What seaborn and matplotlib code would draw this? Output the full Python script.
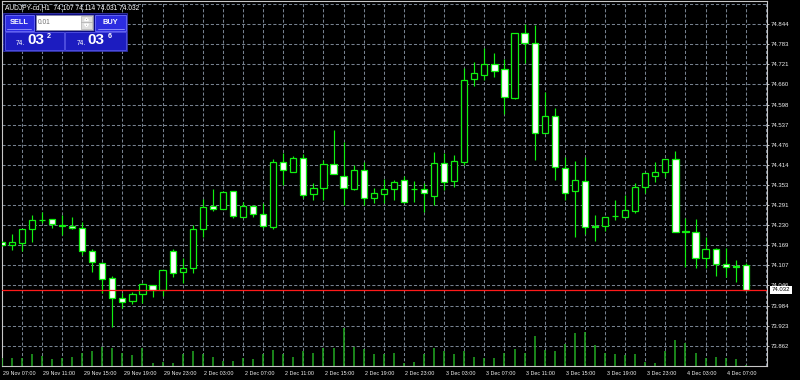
import matplotlib
matplotlib.use("Agg")
import matplotlib.pyplot as plt
import matplotlib.transforms as mtransforms
from matplotlib.patches import Rectangle, Polygon
from matplotlib import font_manager
import numpy as np
import pandas as pd
import seaborn as sns

# ---------------- data ----------------
symbol = "AUDJPY-cd,H1"
opens = [74.179, 74.169, 74.175, 74.217, 74.246, 74.248, 74.227, 74.227, 74.222, 74.151,
         74.115, 74.070, 74.007, 73.997, 74.020, 74.047, 74.032, 74.152, 74.086, 74.098,
         74.217, 74.288, 74.279, 74.334, 74.256, 74.289, 74.264, 74.225, 74.424, 74.393,
         74.436, 74.325, 74.342, 74.416, 74.380, 74.339, 74.398, 74.312, 74.325, 74.339,
         74.367, 74.339, 74.339, 74.320, 74.421, 74.366, 74.424, 74.676, 74.688, 74.721,
         74.706, 74.617, 74.816, 74.785, 74.512, 74.563, 74.404, 74.334, 74.365, 74.226,
         74.227, 74.257, 74.256, 74.273, 74.347, 74.381, 74.391, 74.431, 74.211, 74.210,
         74.129, 74.157, 74.110, 74.105, 74.107]
highs = [74.183, 74.203, 74.219, 74.261, 74.271, 74.249, 74.261, 74.254, 74.240, 74.156,
         74.116, 74.075, 74.022, 74.027, 74.054, 74.048, 74.094, 74.156, 74.129, 74.230,
         74.310, 74.340, 74.333, 74.335, 74.302, 74.290, 74.297, 74.431, 74.449, 74.441,
         74.446, 74.358, 74.429, 74.520, 74.485, 74.414, 74.424, 74.342, 74.370, 74.368,
         74.380, 74.365, 74.358, 74.452, 74.451, 74.444, 74.709, 74.729, 74.772, 74.755,
         74.736, 74.817, 74.844, 74.841, 74.637, 74.587, 74.439, 74.427, 74.437, 74.261,
         74.255, 74.307, 74.322, 74.358, 74.389, 74.424, 74.432, 74.457, 74.251, 74.249,
         74.195, 74.161, 74.159, 74.124, 74.114]
lows = [74.165, 74.154, 74.152, 74.177, 74.236, 74.220, 74.200, 74.217, 74.139, 74.088,
        74.022, 73.920, 73.978, 73.989, 73.993, 74.011, 74.014, 74.073, 74.052, 74.083,
        74.195, 74.274, 74.278, 74.251, 74.255, 74.254, 74.221, 74.217, 74.353, 74.392,
        74.314, 74.307, 74.307, 74.385, 74.291, 74.338, 74.291, 74.297, 74.297, 74.307,
        74.297, 74.302, 74.271, 74.291, 74.337, 74.345, 74.414, 74.655, 74.673, 74.683,
        74.569, 74.616, 74.724, 74.429, 74.511, 74.368, 74.307, 74.193, 74.203, 74.182,
        74.213, 74.246, 74.255, 74.266, 74.329, 74.363, 74.378, 74.209, 74.103, 74.100,
        74.098, 74.076, 74.073, 74.057, 74.031]
closes = [74.169, 74.178, 74.217, 74.246, 74.245, 74.232, 74.229, 74.222, 74.152, 74.117,
          74.065, 74.008, 73.994, 74.020, 74.049, 74.032, 74.093, 74.083, 74.100, 74.218,
          74.286, 74.279, 74.332, 74.259, 74.289, 74.263, 74.227, 74.424, 74.398, 74.436,
          74.322, 74.342, 74.416, 74.386, 74.342, 74.398, 74.312, 74.327, 74.340, 74.363,
          74.302, 74.340, 74.327, 74.421, 74.363, 74.426, 74.673, 74.694, 74.722, 74.701,
          74.622, 74.816, 74.785, 74.512, 74.563, 74.408, 74.328, 74.368, 74.225, 74.224,
          74.254, 74.259, 74.276, 74.345, 74.388, 74.391, 74.431, 74.210, 74.209, 74.129,
          74.157, 74.110, 74.101, 74.101, 74.032]
volumes = [240, 250, 231, 351, 300, 219, 231, 270, 399, 450,
           570, 531, 381, 330, 549, 99, 120, 81, 351, 450,
           351, 270, 150, 150, 231, 201, 351, 480, 351, 270,
           450, 390, 531, 531, 1149, 570, 501, 351, 351, 399,
           99, 120, 369, 531, 450, 351, 450, 270, 249, 231,
           381, 519, 399, 900, 471, 450, 651, 981, 1029, 630,
           399, 351, 330, 369, 120, 81, 450, 780, 699, 381,
           249, 270, 231, 201, 30]
time_tick_index = [0, 4, 8, 12, 16, 20, 24, 28, 32, 36, 40, 44, 48, 52, 56, 60, 64, 68, 72]
time_labels = ["29 Nov 07:00", "29 Nov 11:00", "29 Nov 15:00", "29 Nov 19:00", "29 Nov 23:00",
               "2 Dec 03:00", "2 Dec 07:00", "2 Dec 11:00", "2 Dec 15:00", "2 Dec 19:00",
               "2 Dec 23:00", "3 Dec 03:00", "3 Dec 07:00", "3 Dec 11:00", "3 Dec 15:00",
               "3 Dec 19:00", "3 Dec 23:00", "4 Dec 03:00", "4 Dec 07:00"]
price_ticks = [74.844, 74.783, 74.721, 74.660, 74.598, 74.537, 74.476, 74.414, 74.353,
               74.291, 74.230, 74.169, 74.107, 74.046, 73.984, 73.923, 73.862]
extra_grid_prices = [74.905]
bid_price = 74.032
lot_size = "0.01"
sell_quote = ["74.", "03", "2"]
buy_quote = ["74.", "03", "6"]

# ---------------- style ----------------
sns.set_theme(style="dark", rc={"axes.facecolor": "black", "figure.facecolor": "black"})
names = {f.name for f in font_manager.fontManager.ttflist}
REG = "Liberation Sans" if "Liberation Sans" in names else "DejaVu Sans"
NARROW = "Liberation Sans Narrow" if "Liberation Sans Narrow" in names else None
plt.rcParams["font.family"] = [REG, "DejaVu Sans"]
if NARROW:
    tick_family, xlab_size, ylab_size = [NARROW, "DejaVu Sans"], 4.4, 5.0
else:
    tick_family, xlab_size, ylab_size = [REG, "DejaVu Sans"], 3.85, 4.35

W, H = 800, 380
fig = plt.figure(figsize=(W / 100, H / 100), dpi=100, facecolor="black")
L, R, T, B = 1.5, 767.0, 1.0, 366.0
pos = [L / W, 1 - B / H, (R - L) / W, (B - T) / H]
ax = fig.add_axes(pos)
ax.set_facecolor("black")

df = pd.DataFrame({"open": opens, "high": highs, "low": lows, "close": closes, "volume": volumes})
df["x"] = np.arange(len(df))
df["bull"] = df["close"] > df["open"]

ax.set_xlim(-0.02, 76.11)
ax.set_ylim(73.800, 74.914)

GREEN = "#10f010"
# wicks
ax.vlines(df["x"], df["low"], df["high"], color=GREEN, lw=0.85, zorder=3)
# bodies
body_bottom = np.minimum(df["open"], df["close"])
body_height = np.abs(df["close"] - df["open"])
face = np.where(df["bull"], "black", "white")
ax.bar(df["x"], body_height, bottom=body_bottom, width=0.62, color=face,
       edgecolor=GREEN, linewidth=0.9, zorder=4)

# bid line
ax.axhline(bid_price, color="#ff1a1a", lw=0.9, zorder=5)

# grid
ax.set_xticks(time_tick_index)
ax.set_xticklabels(time_labels, ha="left")
ax.set_xticks(range(0, 77, 2), minor=True)
ax.yaxis.tick_right()
ax.set_yticks(price_ticks)
ax.set_yticklabels([f"{p:.3f}" for p in price_ticks])
ax.set_yticks(extra_grid_prices, minor=True)
ax.grid(True, which="both", color="#76818f", lw=0.75, ls=(0, (3, 2)), zorder=1)
ax.set_axisbelow(True)
ax.tick_params(axis="x", which="major", direction="out", length=2.5, width=0.7,
               color="#c8c8c8", labelsize=xlab_size, labelcolor="#f0f0f0", pad=1.0)
ax.tick_params(axis="y", which="major", direction="out", length=1.5, width=0.7,
               color="#c8c8c8", labelsize=ylab_size, labelcolor="#f0f0f0", pad=1.2,
               right=True, left=False, labelright=True, labelleft=False)
ax.tick_params(which="minor", length=0)
off = mtransforms.ScaledTranslation(1.5 / 100, 0, fig.dpi_scale_trans)
for lab in ax.get_xticklabels():
    lab.set_transform(lab.get_transform() + off)
    lab.set_family(tick_family)
for lab in ax.get_yticklabels():
    lab.set_family(tick_family)
for sp in ax.spines.values():
    sp.set_color("#c8c8c8")
    sp.set_linewidth(0.8)
    sp.set_visible(True)

# bid label box
trans = mtransforms.blended_transform_factory(ax.transAxes, ax.transData)
ax.text(1.0 + 4.5 / (R - L), bid_price, f"{bid_price:.3f}", transform=trans, ha="left",
        va="center", fontsize=ylab_size, family=tick_family, color="black",
        bbox=dict(boxstyle="square,pad=0.3", fc="white", ec="none"), clip_on=False, zorder=30)

# volumes
ax2 = fig.add_axes(pos, sharex=ax)
ax2.patch.set_visible(False)
ax2.set_ylim(0, 365 * 30)
ax2.vlines(df["x"], 0, df["volume"], color="#22aa22", lw=1.1)
ax2.axis("off")

# ---------------- overlay: header + one-click panel ----------------
ov = fig.add_axes([0, 0, 1, 1])
ov.set_xlim(0, W)
ov.set_ylim(H, 0)
ov.axis("off")
ov.patch.set_visible(False)

hdr = f"{symbol}  {opens[-1]:.3f} {highs[-1]:.3f} {lows[-1]:.3f} {closes[-1]:.3f}"
ov.text(5, 7.5, hdr, color="white", fontsize=4.8, va="center", ha="left")


def rect(x0, y0, x1, y1, fc, ec="none", lw=0.0, z=1):
    ov.add_patch(Rectangle((x0, y0), x1 - x0, y1 - y0, facecolor=fc, edgecolor=ec,
                           linewidth=lw, zorder=z))


rect(3, 13, 127, 50.5, "#0b0b80", "#4040c0", 0.5)
rect(4.5, 14.5, 33.5, 30.5, "#2c2ce0", "#7070ff", 0.6, 2)
rect(95, 14.5, 126, 30.5, "#2c2ce0", "#7070ff", 0.6, 2)
ov.plot([7, 31], [29.3, 29.3], color="#9a9aff", lw=0.6, zorder=3)
ov.plot([97.5, 123.5], [29.3, 29.3], color="#9a9aff", lw=0.6, zorder=3)
rect(35.5, 15, 93, 29.5, "white", "#8888a0", 0.5, 2)
rect(80.5, 15.8, 92.3, 28.8, "#dedede", "#a0a0a0", 0.4, 3)
ov.plot([80.5, 92.3], [22.3, 22.3], color="#a0a0a0", lw=0.4, zorder=4)
ov.add_patch(Polygon([[84.5, 20.5], [88.5, 20.5], [86.5, 18.0]], closed=True, fc="#303030", zorder=4))
ov.add_patch(Polygon([[84.5, 24.2], [88.5, 24.2], [86.5, 26.7]], closed=True, fc="#303030", zorder=4))
rect(4.5, 32, 63.5, 50, "#1c1cc0", "#5555e8", 0.6, 2)
rect(65, 32, 126, 50, "#1c1cc0", "#5555e8", 0.6, 2)

ov.text(19, 22, "SELL", color="white", fontsize=5.3, fontweight="bold", ha="center", va="center", zorder=5)
ov.text(110.5, 22, "BUY", color="white", fontsize=5.3, fontweight="bold", ha="center", va="center", zorder=5)
ov.text(38, 22.3, lot_size, color="#707070", fontsize=4.8, ha="left", va="center", zorder=5)

for (x_small, x_big, x_sup), q in [((16, 27, 47), sell_quote), ((77, 87.5, 107.5), buy_quote)]:
    ov.text(x_small, 45, q[0], color="white", fontsize=4.8, ha="left", va="baseline", zorder=5)
    ov.text(x_big, 44.5, q[1], color="white", fontsize=11, fontweight="bold", ha="left",
            va="baseline", zorder=5)
    ov.text(x_sup, 37.5, q[2], color="white", fontsize=5.2, fontweight="bold", ha="left",
            va="baseline", zorder=5)

fig.savefig("out.png", dpi=100, facecolor="black")
